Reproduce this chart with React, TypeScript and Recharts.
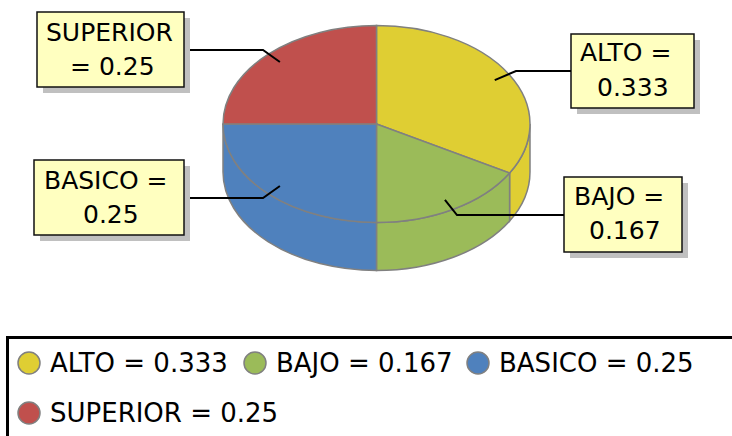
import React from "react";
import { PieChart, Pie, Legend } from "recharts";

const categories = ["ALTO", "BAJO", "BASICO", "SUPERIOR"];
const shares = [0.333, 0.167, 0.25, 0.25];
const palette = ["#DFCE33", "#9BBB59", "#4F81BD", "#C0504D"];

const rows = categories.map((name, i) => ({ name, value: shares[i], fill: palette[i] }));

const W = 732;
const H = 436;
const CX = 376.5;
const CY = 124;
const RX = 153.5;
const RY = 98.5;
const DEPTH = 48;
const EDGE = "#808080";
const FONT = "'DejaVu Sans', sans-serif";

type Callout = { box: [number, number, number, number]; split: number; l1: [number, number]; l2: [number, number]; elbow: [number, number]; lineFrom: number };
const callouts: Record<string, Callout> = {
  ALTO: { box: [571, 34, 123, 74], split: 2, l1: [580, 61], l2: [597, 96], elbow: [516, 71], lineFrom: 571 },
  BAJO: { box: [564, 177, 118, 75], split: 2, l1: [574, 205], l2: [589, 239], elbow: [457, 215], lineFrom: 564 },
  BASICO: { box: [34, 160, 150, 75], split: 2, l1: [44, 189], l2: [83, 223], elbow: [263, 198], lineFrom: 190 },
  SUPERIOR: { box: [37, 12, 147, 75], split: 1, l1: [46, 41], l2: [70, 75], elbow: [263, 50], lineFrom: 190 },
};

const pt = (cx: number, cy: number, a: number, k = 1): [number, number] => {
  const t = (a * Math.PI) / 180;
  return [cx + RX * k * Math.cos(t), cy - RY * k * Math.sin(t)];
};

const TopSlice = (p: any) => {
  const [x0, y0] = pt(p.cx, p.cy, p.startAngle);
  const [x1, y1] = pt(p.cx, p.cy, p.endAngle);
  const large = Math.abs(p.startAngle - p.endAngle) > 180 ? 1 : 0;
  return (
    <path
      d={`M${p.cx},${p.cy}L${x0},${y0}A${RX},${RY} 0 ${large} 1 ${x1},${y1}Z`}
      fill={p.fill}
      stroke={EDGE}
      strokeWidth={1.5}
    />
  );
};

const WallSlice = (p: any) => {
  const from = Math.min(p.startAngle, 0);
  const to = Math.max(p.endAngle, -180);
  if (from <= to) return <g />;
  const [x0, y0] = pt(p.cx, p.cy, from);
  const [x1, y1] = pt(p.cx, p.cy, to);
  return (
    <path
      d={`M${x0},${y0}A${RX},${RY} 0 0 1 ${x1},${y1}L${x1},${y1 + DEPTH}A${RX},${RY} 0 0 0 ${x0},${y0 + DEPTH}Z`}
      fill={p.fill}
      stroke={EDGE}
      strokeWidth={1.5}
    />
  );
};

const CalloutLabel = (p: any) => {
  const c = callouts[p.name];
  const [bx, by, bw, bh] = c.box;
  const [ax, ay] = pt(p.cx, p.cy, p.midAngle, 0.89);
  const words = `${p.name} = ${p.value}`.split(" ");
  const first = words.slice(0, c.split).join(" ");
  const second = words.slice(c.split).join(" ");
  return (
    <g>
      <rect x={bx + 6} y={by + 6} width={bw} height={bh} fill="#C0C0C0" />
      <rect x={bx} y={by} width={bw} height={bh} fill="#FFFFC0" stroke="#111" strokeWidth={1.5} />
      <polyline
        points={`${ax},${ay} ${c.elbow[0]},${c.elbow[1]} ${c.lineFrom},${c.elbow[1]}`}
        fill="none"
        stroke="#000"
        strokeWidth={2}
      />
      <text x={c.l1[0]} y={c.l1[1]} fontFamily={FONT} fontSize={25} fill="#000">{first}</text>
      <text x={c.l2[0]} y={c.l2[1]} fontFamily={FONT} fontSize={25} fill="#000">{second}</text>
    </g>
  );
};

const legendSlots = [
  { left: 11, top: 0 },
  { left: 237, top: 0 },
  { left: 460, top: 0 },
  { left: 11, top: 50 },
];

const LegendBox = (props: any) => {
  const items = (props.payload || []).filter((e: any) => e.type !== "none" && categories.includes(e.value));
  const unique = categories.map((c) => items.find((e: any) => e.value === c)).filter(Boolean);
  return (
    <div
      style={{
        boxSizing: "border-box",
        position: "relative",
        width: W - 6,
        height: H - 336,
        borderTop: "3px solid #000",
        borderLeft: "3px solid #000",
        fontFamily: FONT,
        fontSize: 26,
        color: "#000",
      }}
    >
      {unique.map((e: any, i: number) => (
        <div
          key={e.value}
          style={{
            position: "absolute",
            left: legendSlots[i].left - 3,
            top: legendSlots[i].top,
            display: "flex",
            alignItems: "center",
            height: 48,
            whiteSpace: "nowrap",
          }}
        >
          <svg width={24} height={24} style={{ marginRight: 9 }}>
            <circle cx={12} cy={12} r={11} fill={e.color} stroke={EDGE} strokeWidth={1.5} />
          </svg>
          <span>{`${e.value} = ${shares[categories.indexOf(e.value)]}`}</span>
        </div>
      ))}
    </div>
  );
};

export default function App() {
  return (
    <div style={{ position: "absolute", left: 0, top: 0, width: W, height: H, background: "#fff" }}>
      <PieChart width={W} height={H} margin={{ top: 0, right: 0, bottom: 0, left: 0 }}>
        <Pie
          data={rows}
          dataKey="value"
          nameKey="name"
          cx={CX}
          cy={CY}
          outerRadius={RX}
          startAngle={90}
          endAngle={-270}
          legendType="none"
          isAnimationActive={false}
          shape={WallSlice}
        />
        <Pie
          data={rows}
          dataKey="value"
          nameKey="name"
          cx={CX}
          cy={CY}
          outerRadius={RX}
          startAngle={90}
          endAngle={-270}
          isAnimationActive={false}
          shape={TopSlice}
          label={CalloutLabel}
          labelLine={false}
        />
        <Legend
          content={LegendBox}
          wrapperStyle={{ position: "absolute", left: 6, top: 336, width: W - 6, height: H - 336 }}
        />
      </PieChart>
    </div>
  );
}
